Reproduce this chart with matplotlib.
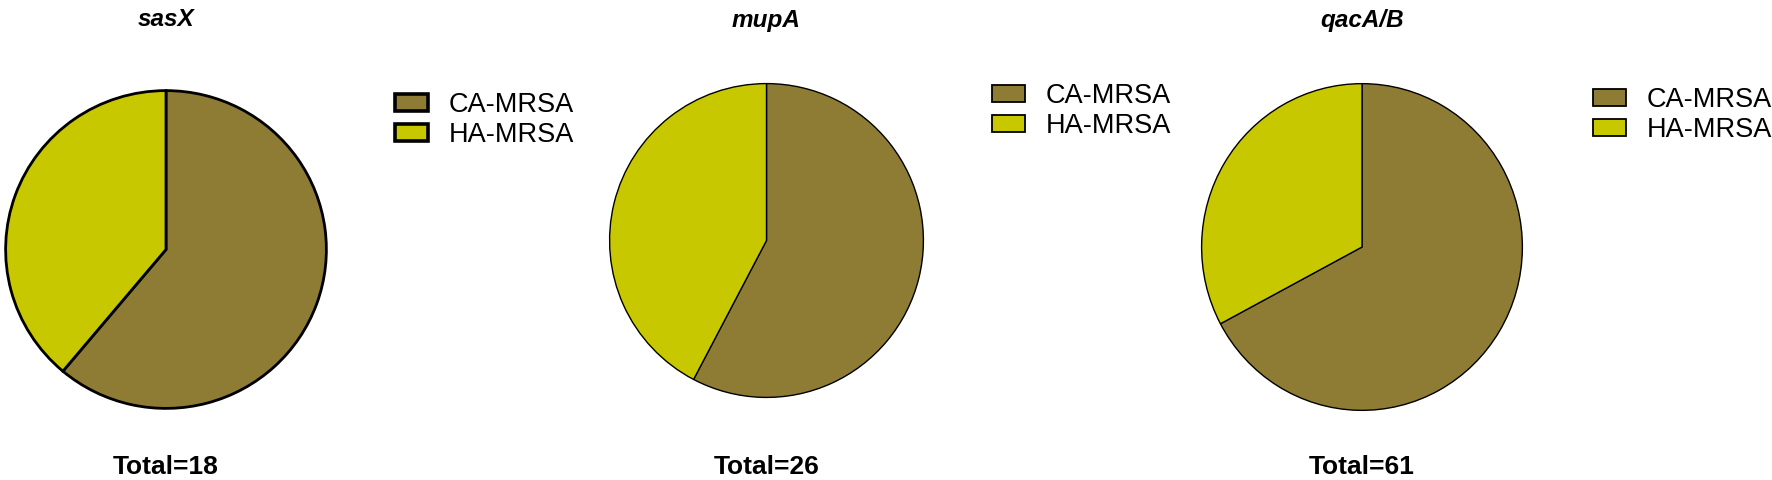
import matplotlib.pyplot as plt
from matplotlib.patches import Patch

W, H = 1772, 480

genes = ["sasX", "mupA", "qacA/B"]
groups = ["CA-MRSA", "HA-MRSA"]
ca_counts = [11, 15, 41]
ha_counts = [7, 11, 20]
totals = [18, 26, 61]
colors = ["#8F7C34", "#C8C800"]

# pixel boxes (left, top, right, bottom) of each pie ellipse
pie_boxes = [(4, 89, 328, 410), (608, 82, 925, 399), (1200, 82, 1524, 412)]
# top-left corner of each legend, pixels
legend_pos = [(395, 92), (992, 83), (1593, 87)]
edge_w = [2.0, 1.0, 1.0]


def fig_rect(box):
    l, t, r, b = box
    return [l / W, 1 - b / H, (r - l) / W, (b - t) / H]


fig = plt.figure(figsize=(W / 100, H / 100), dpi=100)
plt.rcParams['font.family'] = ['Liberation Sans', 'DejaVu Sans']

for i, gene in enumerate(genes):
    ax = fig.add_axes(fig_rect(pie_boxes[i]))
    ax.pie([ca_counts[i], ha_counts[i]], colors=colors, startangle=90,
           counterclock=False, radius=0.99,
           wedgeprops=dict(edgecolor="black", linewidth=edge_w[i]))
    ax.set_aspect("auto")
    ax.set_xlim(-1, 1)
    ax.set_ylim(-1, 1)

    cx = (pie_boxes[i][0] + pie_boxes[i][2]) / 2
    fig.text(cx / W, 1 - 20 / H, gene, ha="center", va="center",
             fontsize=17.5, fontweight="bold", style="italic")
    fig.text(cx / W, 1 - 467 / H, "Total=%d" % totals[i], ha="center",
             va="center", fontsize=19, fontweight="bold")

    handles = [Patch(facecolor=c, edgecolor="black", linewidth=edge_w[i] * 1.3)
               for c in colors]
    lx, ly = legend_pos[i]
    fig.legend(handles, groups, loc="upper left",
               bbox_to_anchor=(lx / W, 1 - ly / H), frameon=False,
               fontsize=19.5, handlelength=1.22, handleheight=0.56,
               handletextpad=0.75, labelspacing=0.15, borderpad=0,
               borderaxespad=0)

fig.savefig("out.png", dpi=100)
